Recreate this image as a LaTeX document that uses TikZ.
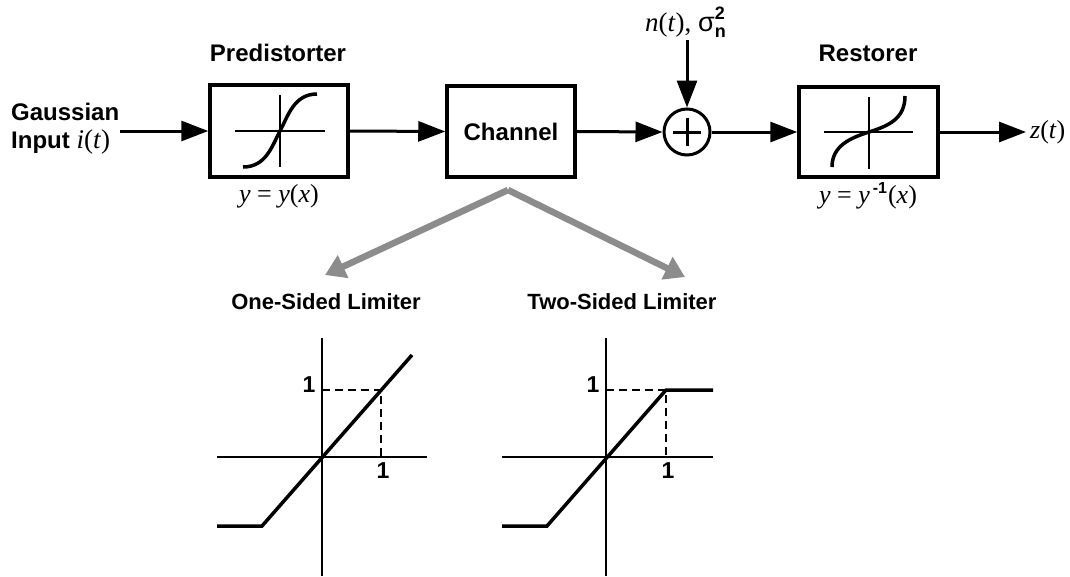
\documentclass[tikz,border=0pt]{standalone}
\usepackage{fontspec}
\setmainfont{Liberation Serif}
\newfontfamily\hv{Liberation Sans}
\usetikzlibrary{arrows.meta}
\begin{document}
\begin{tikzpicture}[x=1pt,y=-1pt,
  lbl/.style={font=\hv\bfseries\fontsize{24}{28}\selectfont, inner sep=0pt},
  smlbl/.style={font=\hv\bfseries\fontsize{22}{26}\selectfont, inner sep=0pt},
  mth/.style={font=\fontsize{26}{30}\selectfont, inner sep=0pt},
  blk/.style={draw, line width=3.5pt, inner sep=0pt},
  arr/.style={line width=3pt, -{Triangle[length=27pt,width=20pt]}},
  garr/.style={draw=black!45, line width=6.5pt, -{Triangle[length=20pt,width=24pt]}},
  curve/.style={line width=3.5pt},
  axis/.style={line width=2pt},
  dsh/.style={line width=1.6pt, dash pattern=on 8pt off 5pt},
  one/.style={font=\hv\bfseries\fontsize{23}{24}\selectfont, inner sep=0pt}]
\useasboundingbox (0,0) rectangle (1070,576);

% ---------- top chain ----------
\node[lbl, anchor=west, align=left] (inp) at (11,129)
  {Gaussian\\Input {\normalfont\fontsize{27}{28}\selectfont\textit{i}(\textit{t})}};
\coordinate (inE) at (120,131);

\node[blk, minimum width=138pt, minimum height=92pt] (pre) at (279,131) {};
\node[lbl] (preL) at (278,53) {Predistorter};
\node[mth] (preF) at (279,196) {\textit{y} = \textit{y}(\textit{x})};
\draw[axis] (235,131) -- (325,131);
\draw[axis] (280,95) -- (280,167);
\draw[curve] (243,167) .. controls (266,167) and (272,146) .. (280,131)
  .. controls (288,116) and (294,94) .. (317,94);

\node[blk, minimum width=128pt, minimum height=91pt, font=\hv\bfseries\fontsize{24}{28}\selectfont] (ch) at (511,131.5) {Channel};

\node[draw, circle, line width=3pt, minimum size=46pt, inner sep=0pt] (sum) at (687,132) {};
\draw[line width=3pt] (673,132) -- (701,132) (687,118) -- (687,146);

\node[inner sep=0pt] (noise) at (685,22)
  {\fontsize{27}{30}\selectfont\textit{n}(\textit{t}),\ {\hv σ}\rlap{\raisebox{-6pt}{\hv\bfseries\fontsize{18}{18}\selectfont n}}\raisebox{12pt}{\hv\bfseries\fontsize{18}{18}\selectfont 2}};
\coordinate (nS) at (687,40);

\node[blk, minimum width=139pt, minimum height=90pt] (res) at (868.5,132) {};
\node[lbl] (resL) at (868,53) {Restorer};
\node[mth] (resF) at (868,196) {\textit{y} = \textit{y}\kern3pt\raisebox{10pt}{\hv\bfseries\fontsize{16}{16}\selectfont -1}\kern1pt(\textit{x})};
\draw[axis] (824,132) -- (913,132);
\draw[axis] (869,97) -- (869,169);
\draw[curve] (832,167) .. controls (832,146) and (850,138) .. (869,132)
  .. controls (888,126) and (905,119) .. (905,96);

\coordinate (outE) at (1026,132);
\node[mth, anchor=west] (zt) at (1030,132) {\textit{z}(\textit{t})};

\draw[arr] (inE) -- (pre.west);
\draw[arr] (pre.east) -- (ch.west);
\draw[arr] (ch.east) -- (sum.west);
\draw[arr] (nS) -- (sum.north);
\draw[arr] (sum.east) -- (res.west);
\draw[arr] (res.east) -- (outE);

% ---------- gray branching arrows ----------
\coordinate (apex) at (508,190);
\coordinate (gL) at (325,275);
\coordinate (gR) at (685,277);
\draw[garr] (apex) -- (gL);
\draw[garr] (apex) -- (gR);

% ---------- one-sided limiter ----------
\node[smlbl] (t1) at (326,302) {One-Sided Limiter};
\coordinate (o1) at (322,457);
\draw[axis] (217,457) -- (427,457);
\draw[axis] (322,338) -- (322,576);
\draw[dsh] (322,390) -- (381,390) -- (381,457);
\draw[curve, line join=miter] (217,526) -- (262,526) -- (412,355);
\node[one] (y1a) at (309,385) {1};
\node[one] (x1a) at (383,471) {1};

% ---------- two-sided limiter ----------
\node[smlbl] (t2) at (622,302) {Two-Sided Limiter};
\coordinate (o2) at (606,457);
\draw[axis] (502,457) -- (713,457);
\draw[axis] (606,338) -- (606,576);
\draw[dsh] (606,390) -- (666,390) -- (666,457);
\draw[curve, line join=miter] (502,526) -- (547,526) -- (666,390) -- (713,390);
\node[one] (y1b) at (593,385) {1};
\node[one] (x1b) at (668,471) {1};
\end{tikzpicture}
\end{document}
